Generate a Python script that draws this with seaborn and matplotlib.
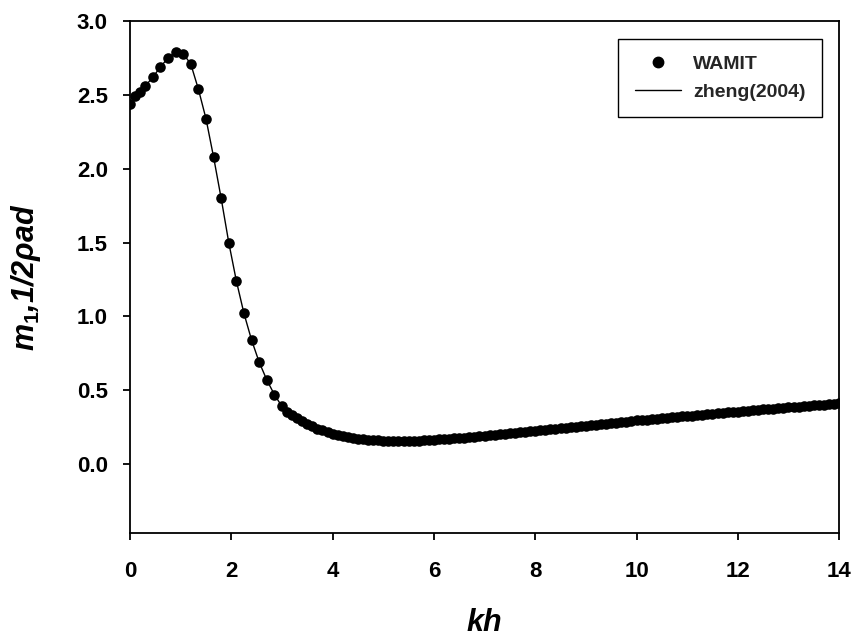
import matplotlib
matplotlib.use('Agg')
import matplotlib.pyplot as plt
import seaborn as sns
import pandas as pd
from matplotlib.lines import Line2D

# kh values
kh = [0.0, 0.1, 0.2, 0.3, 0.45, 0.6, 0.75, 0.9, 1.05, 1.2, 1.35, 1.5, 1.65, 1.8, 1.95,
      2.1, 2.25, 2.4, 2.55, 2.7, 2.85, 3.0,
      3.1, 3.2, 3.3, 3.4, 3.5, 3.6, 3.7, 3.8, 3.9, 4.0,
      4.1, 4.2, 4.3, 4.4, 4.5, 4.6, 4.7, 4.8, 4.9, 5.0,
      5.1, 5.2, 5.3, 5.4, 5.5, 5.6, 5.7, 5.8, 5.9, 6.0,
      6.1, 6.2, 6.3, 6.4, 6.5, 6.6, 6.7, 6.8, 6.9, 7.0,
      7.1, 7.2, 7.3, 7.4, 7.5, 7.6, 7.7, 7.8, 7.9, 8.0,
      8.1, 8.2, 8.3, 8.4, 8.5, 8.6, 8.7, 8.8, 8.9, 9.0,
      9.1, 9.2, 9.3, 9.4, 9.5, 9.6, 9.7, 9.8, 9.9, 10.0,
      10.1, 10.2, 10.3, 10.4, 10.5, 10.6, 10.7, 10.8, 10.9, 11.0,
      11.1, 11.2, 11.3, 11.4, 11.5, 11.6, 11.7, 11.8, 11.9, 12.0,
      12.1, 12.2, 12.3, 12.4, 12.5, 12.6, 12.7, 12.8, 12.9, 13.0,
      13.1, 13.2, 13.3, 13.4, 13.5, 13.6, 13.7, 13.8, 13.9, 14.0]

# WAMIT results (markers)
wamit_m = [2.44, 2.49, 2.52, 2.56, 2.62, 2.69, 2.75, 2.79, 2.78, 2.71, 2.54, 2.34, 2.08, 1.80, 1.50,
           1.24, 1.02, 0.84, 0.69, 0.57, 0.47, 0.39,
           0.355, 0.330, 0.308, 0.288, 0.270, 0.254, 0.240, 0.227, 0.216, 0.206,
           0.197, 0.190, 0.183, 0.177, 0.172, 0.168, 0.164, 0.161, 0.159, 0.157,
           0.156, 0.155, 0.155, 0.155, 0.156, 0.157, 0.158, 0.160, 0.162, 0.164,
           0.166, 0.168, 0.171, 0.173, 0.176, 0.179, 0.182, 0.185, 0.188, 0.191,
           0.194, 0.197, 0.200, 0.204, 0.207, 0.210, 0.214, 0.217, 0.221, 0.224,
           0.228, 0.231, 0.235, 0.238, 0.242, 0.245, 0.249, 0.252, 0.256, 0.259,
           0.263, 0.266, 0.270, 0.273, 0.277, 0.280, 0.284, 0.287, 0.291, 0.295,
           0.298, 0.301, 0.304, 0.307, 0.310, 0.313, 0.316, 0.319, 0.322, 0.325,
           0.328, 0.331, 0.334, 0.337, 0.340, 0.343, 0.346, 0.349, 0.352, 0.355,
           0.358, 0.361, 0.364, 0.367, 0.370, 0.373, 0.375, 0.378, 0.381, 0.384,
           0.386, 0.389, 0.392, 0.394, 0.397, 0.400, 0.402, 0.405, 0.407, 0.410]

# zheng (2004) analytic curve, drawn through the same points
zheng_kh = kh
zheng_m = wamit_m

x_ticks = [0, 2, 4, 6, 8, 10, 12, 14]
y_ticks = [0.0, 0.5, 1.0, 1.5, 2.0, 2.5, 3.0]
legend_labels = ['WAMIT', 'zheng(2004)']

sns.set_style('ticks')
plt.rcParams['font.family'] = ['Liberation Sans', 'DejaVu Sans']
plt.rcParams['mathtext.fontset'] = 'custom'
plt.rcParams['mathtext.it'] = 'Liberation Sans:italic:bold'
plt.rcParams['mathtext.rm'] = 'Liberation Sans:bold'

df = pd.DataFrame({'kh': kh, 'm': wamit_m})
df_line = pd.DataFrame({'kh': zheng_kh, 'm': zheng_m})

fig = plt.figure(figsize=(8.58, 6.42), dpi=100)
ax = fig.add_axes([0.1515, 0.170, 0.8265, 0.797])

sns.lineplot(data=df_line, x='kh', y='m', ax=ax, color='black', linewidth=1.0,
             sort=False, legend=False)
sns.scatterplot(data=df, x='kh', y='m', ax=ax, color='black', s=58,
                edgecolor='black', linewidth=0, legend=False, zorder=3)

ax.set_xlim(0, 14)
ax.set_ylim(-0.467, 3.0)
ax.set_xticks(x_ticks)
ax.set_xticklabels([str(t) for t in x_ticks])
ax.set_yticks(y_ticks)
ax.set_yticklabels([f'{t:.1f}' for t in y_ticks])

for side in ['left', 'bottom', 'top', 'right']:
    ax.spines[side].set_linewidth(1.3)
    ax.spines[side].set_color('black')
ax.tick_params(axis='both', direction='out', length=5, width=1.3, colors='black',
               labelsize=16, top=False, right=False)
ax.tick_params(axis='y', pad=11)
ax.tick_params(axis='x', pad=15)
for lab in ax.get_xticklabels() + ax.get_yticklabels():
    lab.set_fontweight('bold')

ax.set_xlabel('kh', fontsize=22, fontweight='bold', fontstyle='italic', labelpad=19,
              color='black')
ax.set_ylabel('$m_1$,1/2ρad', fontsize=22, fontweight='bold', fontstyle='italic',
              labelpad=24, color='black')

handles = [Line2D([], [], marker='o', color='black', linestyle='none', markersize=7.5),
           Line2D([], [], color='black', linewidth=1.0)]
leg = ax.legend(handles, legend_labels, loc='upper right', bbox_to_anchor=(0.976, 0.965),
                frameon=True, fancybox=False, framealpha=1, edgecolor='black',
                prop={'size': 14, 'weight': 'bold'}, handlelength=2.4,
                handletextpad=0.6, labelspacing=0.5, borderpad=0.85, borderaxespad=0)
leg.get_frame().set_linewidth(1.0)

fig.savefig('out.png', dpi=100)
